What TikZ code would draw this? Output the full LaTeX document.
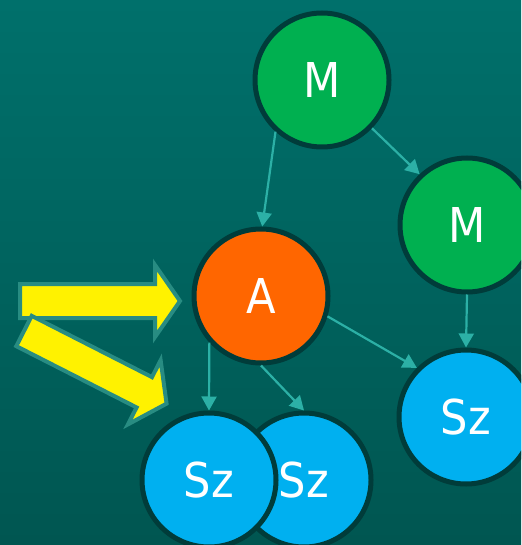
\documentclass[tikz,border=0pt]{standalone}
\usepackage{fontspec}
\setmainfont{DejaVu Sans Condensed}
\usetikzlibrary{arrows.meta}

\definecolor{bgtop}{RGB}{0,112,107}
\definecolor{bgbottom}{RGB}{0,86,81}
\definecolor{ringdark}{RGB}{0,60,58}
\definecolor{linkteal}{RGB}{44,176,166}
\definecolor{arrowrim}{RGB}{40,140,130}
\definecolor{mgreen}{RGB}{0,176,80}
\definecolor{aorange}{RGB}{255,102,0}
\definecolor{szblue}{RGB}{0,176,240}

\tikzset{
  ball/.style={circle, draw=ringdark, line width=5pt, minimum size=134pt,
    inner sep=0pt, text=white, font=\fontsize{48}{48}\selectfont},
  link/.style={draw=linkteal, line width=2.2pt,
    -{Triangle[length=14pt,width=15pt]}},
  bigarrow/.style={fill=yellow, draw=arrowrim, line width=4pt, line join=miter}
}

\begin{document}
\begin{tikzpicture}[x=1pt,y=-1pt]

\shade [top color=bgtop, bottom color=bgbottom] (0,0) rectangle (521,545);
\useasboundingbox (0,0) rectangle (521,545);
\clip (0,0) rectangle (521,545);

% yellow pointers
\draw [bigarrow] (20,301) -- ++(0,-17) -- ++(135,0) -- ++(0,-19) -- ++(25,36)
  -- ++(-25,36) -- ++(0,-19) -- ++(-135,0) -- cycle;
\begin{scope}[shift={(24,331)}, rotate=-27]
\draw [bigarrow] (0,0) -- (0,-17) -- (135,-17) -- (135,-36) -- (160,0)
  -- (135,36) -- (135,17) -- (0,17) -- cycle;
\end{scope}

% nodes
\node [ball, fill=mgreen]  (m1)  at (322,80)  {M};
\node [ball, fill=mgreen]  (m2)  at (467,225) {M};
\node [ball, fill=aorange] (a)   at (261,296) {A};
\node [ball, fill=szblue]  (sz3) at (466,417) {Sz};
\node [ball, fill=szblue]  (sz2) at (304,480) {Sz};
\node [ball, fill=szblue]  (sz1) at (209,480) {Sz};

% links
\draw [link] (m1.228) -- (a.89);
\draw [link] (m1.316) -- (m2.133);
\draw [link] (m2.270) -- (sz3.90);
\draw [link] (a.343) -- (sz3.135);
\draw [link] (a.222) -- (sz1.90);
\draw [link] (a.270) -- (sz2.90);

\end{tikzpicture}
\end{document}
